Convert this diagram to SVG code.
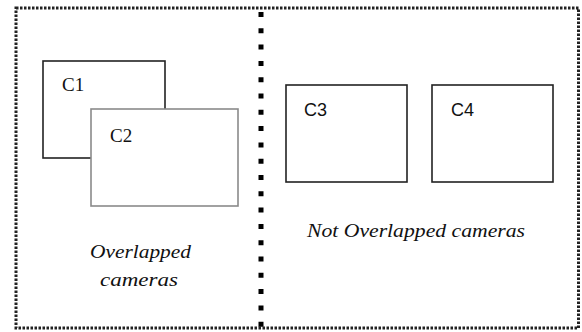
<svg xmlns="http://www.w3.org/2000/svg" width="582" height="332" viewBox="0 0 582 332">
  <style>
    .frame { fill: none; stroke: #222; stroke-width: 3; stroke-dasharray: 2.5 1.5; }
    .divider { fill: none; stroke: #000; stroke-width: 5; stroke-dasharray: 5 11.3; }
    .cam { fill: #fff; stroke: #222; stroke-width: 1.6; }
    .cam-light { fill: #fff; stroke: #8a8a8a; stroke-width: 1.6; }
    .cam-label { font-family: "Liberation Sans", Arial, sans-serif; font-size: 18px; fill: #111; }
    .cam-label-serif { font-family: "Liberation Serif", "Times New Roman", serif; font-size: 19px; fill: #111; }
    .caption { font-family: "Liberation Serif", "Times New Roman", serif; font-style: italic; font-size: 18px; fill: #111; }
  </style>

  <rect width="582" height="332" fill="#fff"/>

  <!-- outer dotted frame and central divider -->
  <rect class="frame" x="16" y="8" width="562.5" height="320"/>
  <line class="divider" x1="261" y1="12" x2="261" y2="328"/>

  <!-- overlapping pair -->
  <g id="c1">
    <rect class="cam" x="43" y="61" width="122" height="97"/>
    <text class="cam-label-serif" x="62" y="91">C1</text>
  </g>
  <g id="c2">
    <rect class="cam-light" x="91" y="109" width="147" height="97"/>
    <text class="cam-label-serif" x="110" y="142">C2</text>
  </g>

  <!-- separate pair -->
  <g id="c3">
    <rect class="cam" x="286" y="85" width="121" height="97"/>
    <text class="cam-label" x="304" y="116">C3</text>
  </g>
  <g id="c4">
    <rect class="cam" x="432" y="85" width="121" height="97"/>
    <text class="cam-label" x="451" y="116">C4</text>
  </g>

  <!-- captions -->
  <g id="caption-overlapped">
    <text class="caption" x="90" y="258" textLength="101" lengthAdjust="spacingAndGlyphs">Overlapped</text>
    <text class="caption" x="100" y="286" textLength="78" lengthAdjust="spacingAndGlyphs">cameras</text>
  </g>
  <g id="caption-not-overlapped">
    <text class="caption" x="307" y="237" textLength="218" lengthAdjust="spacingAndGlyphs">Not Overlapped cameras</text>
  </g>
</svg>
